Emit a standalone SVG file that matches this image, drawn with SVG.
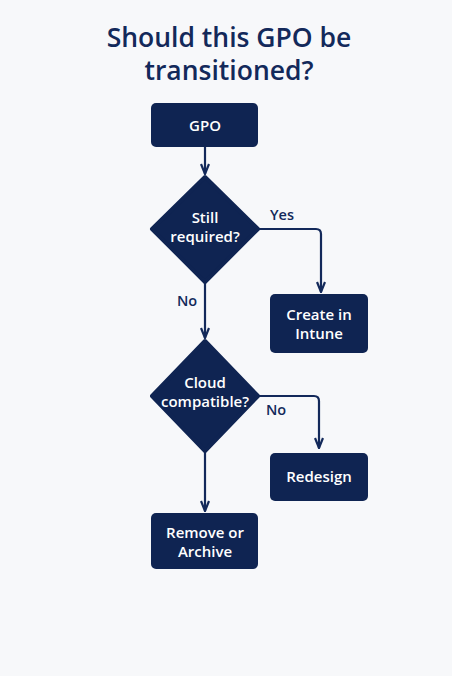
<svg xmlns="http://www.w3.org/2000/svg" width="452" height="676" viewBox="0 0 452 676">
<defs>
<style>
.bg{fill:#f7f8fa}
.node{fill:#0f2452}
.lbl{font-family:"Open Sans","Noto Sans",sans-serif;font-size:15px;font-weight:600;fill:#ffffff;text-anchor:middle}
.edge{fill:none;stroke:#13295a;stroke-width:2.2}
.elbl{font-family:"Open Sans","Noto Sans",sans-serif;font-size:14.5px;font-weight:600;fill:#13295a;text-anchor:middle}
.title{font-family:"Open Sans","Noto Sans",sans-serif;font-size:26.5px;font-weight:600;fill:#13295a;text-anchor:middle}
</style>
<marker id="arr" viewBox="0 0 12 10" refX="11" refY="5" markerWidth="12" markerHeight="10" markerUnits="userSpaceOnUse" orient="auto">
<path d="M1,1 L11,5 L1,9" fill="none" stroke="#13295a" stroke-width="2.2"/>
</marker>
</defs>
<rect class="bg" x="0" y="0" width="452" height="676"/>
<g id="title">
<text class="title" x="229" y="47">Should this GPO be</text>
<text class="title" x="229" y="80">transitioned?</text>
</g>
<g id="connectors">
<path class="edge" d="M205,147 V174" marker-end="url(#arr)"/>
<path class="edge" d="M258,229 H316 Q321,229 321,234 V292" marker-end="url(#arr)"/>
<path class="edge" d="M205,282 V338" marker-end="url(#arr)"/>
<path class="edge" d="M258,396 H314 Q319,396 319,401 V448" marker-end="url(#arr)"/>
<path class="edge" d="M205,452 V511" marker-end="url(#arr)"/>
<text class="elbl" x="282" y="220">Yes</text>
<text class="elbl" x="187" y="306">No</text>
<text class="elbl" x="276" y="415">No</text>
</g>
<g id="gpo">
<rect class="node" x="151" y="103" width="107" height="44" rx="5"/>
<text class="lbl" x="205" y="131">GPO</text>
</g>
<g id="still-required">
<path class="node" d="M205,177 L258,229 L205,282 L152,229 Z" stroke="#0f2452" stroke-width="4" stroke-linejoin="round"/>
<text class="lbl" x="205" y="223">Still</text>
<text class="lbl" x="205" y="242">required?</text>
</g>
<g id="create-intune">
<rect class="node" x="270" y="294" width="98" height="59" rx="5"/>
<text class="lbl" x="319" y="320">Create in</text>
<text class="lbl" x="319" y="339">Intune</text>
</g>
<g id="cloud-compatible">
<path class="node" d="M205,341 L258,396 L205,451 L152,396 Z" stroke="#0f2452" stroke-width="4" stroke-linejoin="round"/>
<text class="lbl" x="205" y="388">Cloud</text>
<text class="lbl" x="205" y="407">compatible?</text>
</g>
<g id="redesign">
<rect class="node" x="270" y="453" width="98" height="48" rx="5"/>
<text class="lbl" x="319" y="482">Redesign</text>
</g>
<g id="remove-archive">
<rect class="node" x="151" y="513" width="107" height="56" rx="5"/>
<text class="lbl" x="205" y="538">Remove or</text>
<text class="lbl" x="205" y="557">Archive</text>
</g>
</svg>
